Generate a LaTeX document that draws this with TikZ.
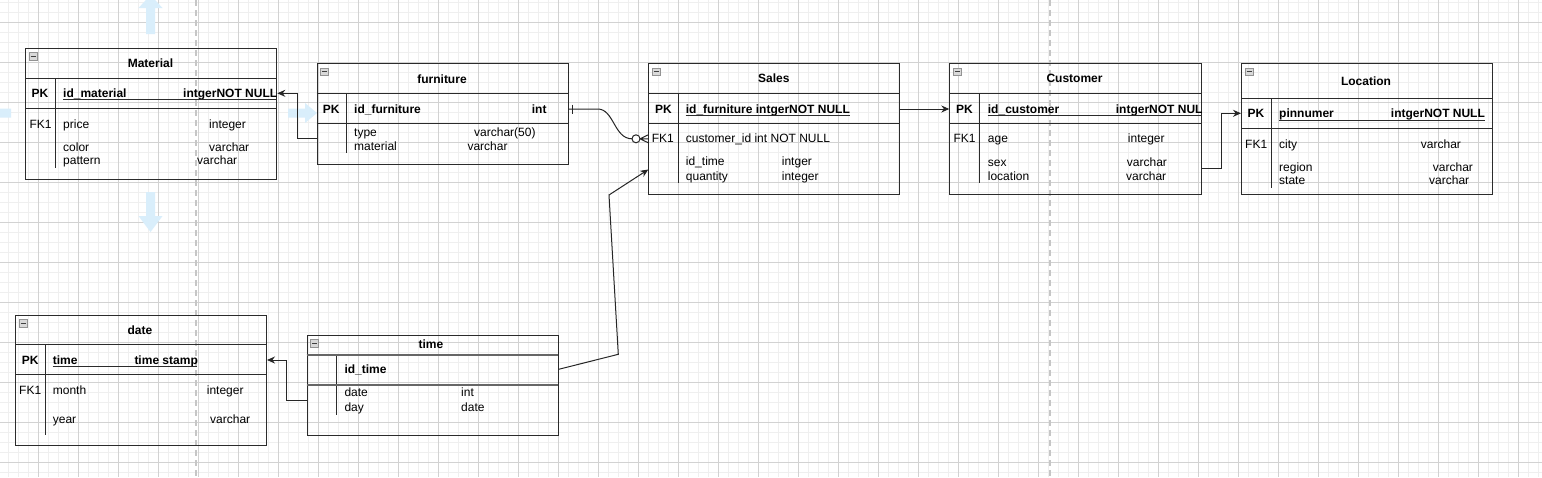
\documentclass[tikz,border=0pt]{standalone}
\usepackage{fontspec}
\setmainfont{Liberation Sans}
\usetikzlibrary{arrows.meta,calc,positioning}
\definecolor{gridminor}{HTML}{EFEFEF}
\definecolor{gridmajor}{HTML}{D2D2D2}
\definecolor{hintblue}{HTML}{D9EEFB}
\definecolor{edge}{HTML}{2B2B2B}

\begin{document}
\begin{tikzpicture}[x=1pt,y=-1pt,
  tbl/.style={draw=edge,line width=1pt,inner sep=0pt,anchor=north west},
  row/.style={draw=edge,line width=1pt},
  txt/.style={anchor=base west,inner sep=0pt,font=\fontsize{12}{14}\selectfont},
  key/.style={txt,font=\fontsize{12}{14}\selectfont\bfseries},
  ttl/.style={anchor=base,inner sep=0pt,font=\fontsize{12}{14}\selectfont\bfseries},
  conn/.style={draw=black!85,line width=1pt},
  tip/.style={-{Stealth[length=8pt,width=7pt]}}]

\fill[white] (0,0) rectangle (1542,477);
\useasboundingbox (0,0) rectangle (1542,477);
\clip (0,0) rectangle (1542,477);

% grid
\foreach \x in {8,18,...,1538} \draw[gridminor] (\x,0) -- (\x,477);
\foreach \y in {2,12,...,472} \draw[gridminor] (0,\y) -- (1542,\y);
\foreach \x in {38,78,...,1518} \draw[gridmajor,line width=0.8pt] (\x,0) -- (\x,477);
\foreach \y in {22,62,...,462} \draw[gridmajor,line width=0.8pt] (0,\y) -- (1542,\y);
\draw[gray!45,line width=1.3pt,dash pattern=on 6pt off 4pt] (196,0) -- (196,477) (1050,0) -- (1050,477);

% hint arrows round Material
\fill[hintblue] (146,34) -- (146,8) -- (138.5,8) -- (150.5,-5) -- (162.5,8) -- (155,8) -- (155,34) -- cycle;
\fill[hintblue] (146,192) -- (146,216) -- (138.5,216) -- (150.5,232) -- (162.5,216) -- (155,216) -- (155,192) -- cycle;
\fill[hintblue] (288,108.5) -- (305,108.5) -- (305,103) -- (317,113) -- (305,123) -- (305,117.5) -- (288,117.5) -- cycle;
\fill[hintblue] (11,108.5) -- (-4,108.5) -- (-4,103) -- (-16,113) -- (-4,123) -- (-4,117.5) -- (11,117.5) -- cycle;

% tables
\foreach \n/\x/\y/\w/\h/\a/\b/\s/\e in {
  material/25/48/251.3/130.7/78.3/108.7/55/168,
  furniture/316.7/63.3/251/100.7/93.3/123.3/346.7/153,
  sales/648.3/63.3/251/130.7/93.3/123.3/678.3/183.3,
  customer/949.3/63.3/251.4/130.7/93.3/123.3/979.3/183.3,
  location/1241/63.3/251.3/130.7/98.3/128.7/1271/188.3,
  date/15/315/251/130.3/344.3/374.7/45/435,
  time/306.7/335/251/100.3/354.7/385/336.7/415}{
  \node[tbl,minimum width=\w pt,minimum height=\h pt] (\n) at (\x,\y) {};
  \draw[row] (\x,\a) -- ++(\w,0) (\x,\b) -- ++(\w,0) (\s,\a) -- (\s,\e);
  \draw[gray!85,fill=gray!30,line width=0.6pt] (\x+4,\y+4.5) rectangle ++(8,7.5);
  \draw[black!75,line width=1.2pt] (\x+5.5,\y+8.3) -- ++(5,0);
}
\draw[black!60,line width=2pt] (306.7,354.7) -- ++(251,0) (306.7,385) -- ++(251,0);

% titles
\foreach \x/\y/\t [count=\i] in {150.5/67.8/Material, 442/83.5/furniture,
  773.8/82.8/Sales, 1074.5/82.8/Customer, 1366/85.2/Location,
  140/334.5/date, 431/348.8/time}
  \node[ttl] (title\i) at (\x,\y) {\t};

% key rows
\foreach \x/\y/\t [count=\i] in {
  31.5/97.8/PK, 63/97.8/id\_material, 183/97.8/intgerNOT NULL,
  322.7/113.5/PK, 354/113.5/id\_furniture, 531.7/113.5/int,
  655/113.5/PK, 685.7/113.5/id\_furniture intgerNOT NULL,
  956/113.5/PK, 987.7/113.5/id\_customer, 1115.7/113.5/intgerNOT NUL,
  1247.3/117.8/PK, 1279/117.8/pinnumer, 1390.7/117.8/intgerNOT NULL,
  21.7/364.5/PK, 52.7/364.5/time, 134.3/364.5/time stamp,
  344.3/373.8/id\_time}
  \node[key] (key\i) at (\x,\y) {\t};
\draw[edge,line width=0.9pt] (63,99.5) -- (276,99.5) (685.7,115.5) -- (850,115.5)
  (987.7,115) -- (1200.7,115) (1279,120) -- (1485,120) (52.7,366.2) -- (197,366.2);

% other rows
\foreach \x/\y/\t [count=\i] in {
  29.3/128.2/FK1, 63/128.2/price, 209/128.2/integer, 63/151.2/color,
  209/151.2/varchar, 63/164.5/pattern, 197/164.5/varchar,
  354/136.2/type, 474/136.2/{varchar(50)}, 354/150.5/material, 467.3/150.5/varchar,
  651.7/142.8/FK1, 685.7/142.8/customer\_id int NOT NULL, 685.7/165.5/id\_time,
  781.7/165.5/intger, 685.7/180.2/quantity, 781.7/180.2/integer,
  953.3/142.8/FK1, 987.7/142.8/age, 1127.7/142.8/integer, 987.7/166.2/sex,
  1126.7/166.2/varchar, 987.7/180.2/location, 1126/180.2/varchar,
  1245/148.2/FK1, 1279/148.2/city, 1420.7/148.2/varchar, 1279/171.2/region,
  1432.7/171.2/varchar, 1279/184.5/state, 1429/184.5/varchar,
  19/394.5/FK1, 52.7/394.5/month, 206.7/394.5/integer, 52.7/423.8/year, 210/423.8/varchar,
  344.3/396.8/date, 461/396.8/int, 344.3/411.2/day, 461/411.2/date}
  \node[txt] (field\i) at (\x,\y) {\t};

% connectors
\draw[conn,tip] ($(furniture.north west)+(0,75)$) -- ++(-19.7,0) |- ($(material.north east)+(0,45.3)$);
\draw[conn,tip] ($(sales.north east)+(0,45.7)$) -- ($(customer.north west)+(0,45.7)$);
\draw[conn,tip] ($(customer.north east)+(0,105)$) -- ++(20,0) |- ($(location.north west)+(0,50)$);
\draw[conn,tip] ($(time.north west)+(0,65)$) -- ++(-20.7,0) |- ($(date.north east)+(0,45)$);
\draw[conn,tip] ($(time.north east)+(0,34.3)$) -- (618.3,354.3) -- (609,195) -- ($(sales.north west)+(0,106.2)$);

% one to zero-or-many
\coordinate (one) at ($(furniture.north east)+(0,45.7)$);
\coordinate (many) at ($(sales.north west)+(0,75.5)$);
\draw[conn] (one) -- ++(29,0) .. controls (614,109) and (614,138.8) .. (632,138.8);
\draw[conn] ($(one)+(4,-4.5)$) -- ++(0,9);
\draw[conn,fill=white] ($(many)+(-12.3,0)$) circle[radius=4pt];
\draw[conn] ($(many)+(-8.3,0)$) -- ($(many)+(0,-4)$) ($(many)+(-8.3,0)$) -- (many) ($(many)+(-8.3,0)$) -- ($(many)+(0,4)$);
\end{tikzpicture}
\end{document}
